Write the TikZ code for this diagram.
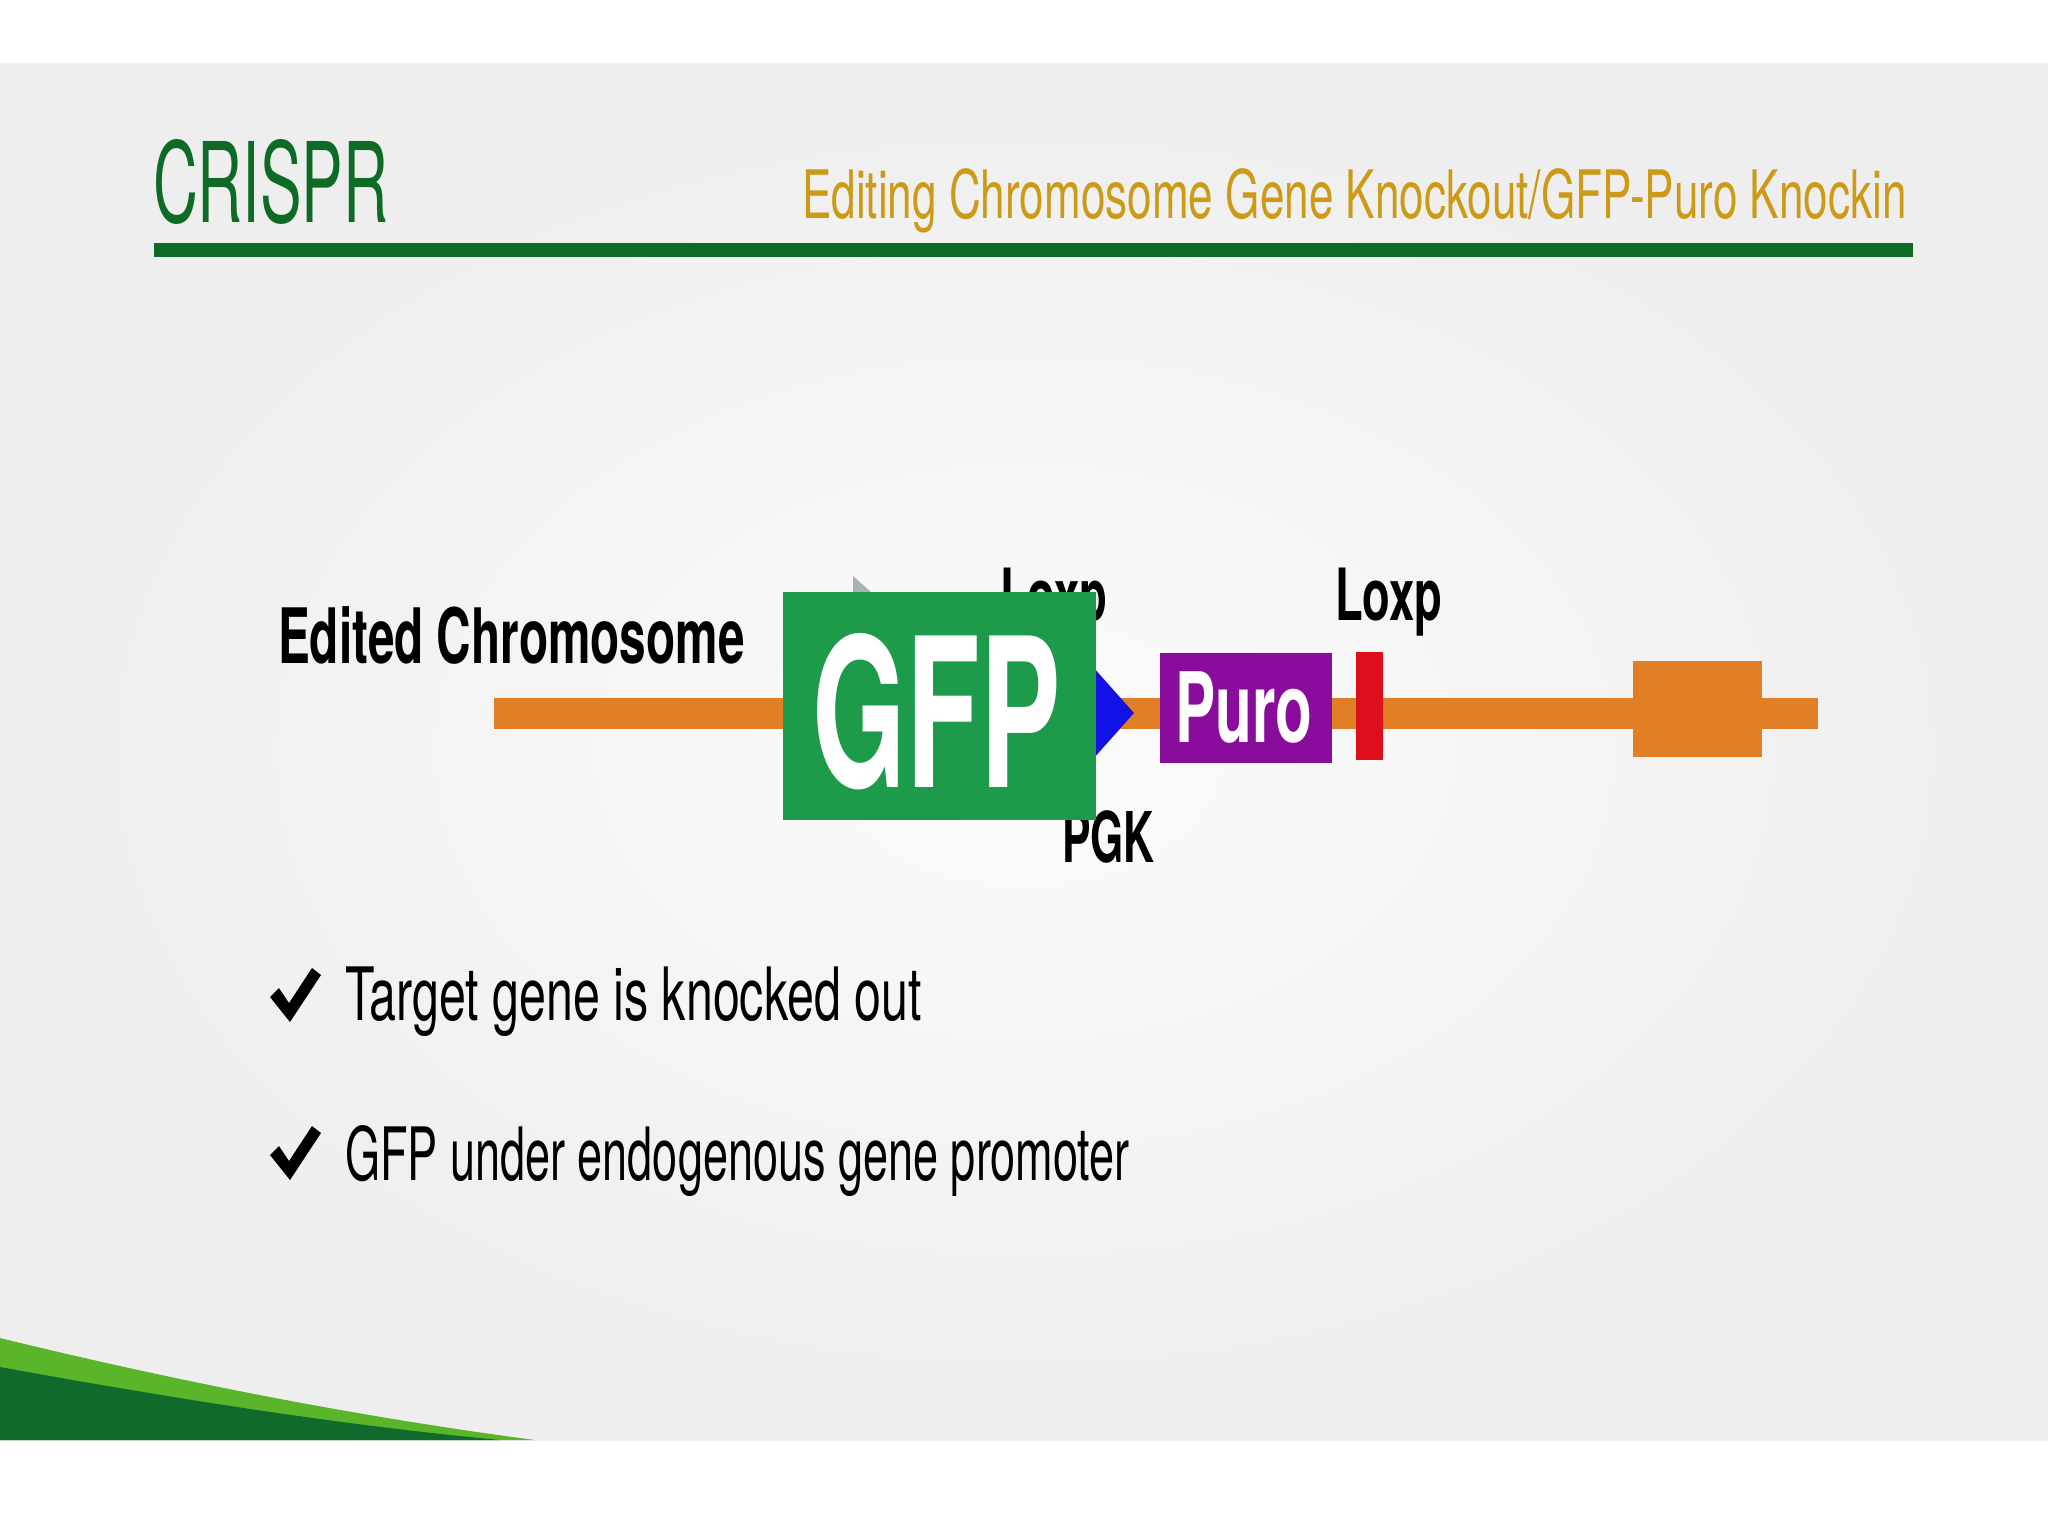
\documentclass[tikz,border=0pt]{standalone}
\usepackage{fontspec}
\setmainfont{TeX Gyre Heros}
\newfontfamily\fcrispr[FakeStretch=0.56]{TeX Gyre Heros}
\newfontfamily\fsub[FakeStretch=0.66]{TeX Gyre Heros}
\newfontfamily\fedit[FakeStretch=0.625]{TeX Gyre Heros}
\newfontfamily\flab[FakeStretch=0.63]{TeX Gyre Heros}
\newfontfamily\fpgk[FakeStretch=0.61]{TeX Gyre Heros}
\newfontfamily\fgfp[FakeStretch=0.58]{TeX Gyre Heros}
\newfontfamily\fpuro[FakeStretch=0.62]{TeX Gyre Heros}
\newfontfamily\fbulA[FakeStretch=0.657]{TeX Gyre Heros}
\newfontfamily\fbulB[FakeStretch=0.612]{TeX Gyre Heros}
\definecolor{hdgreen}{HTML}{0D6B26}
\definecolor{gold}{HTML}{CC9A16}
\definecolor{orng}{HTML}{E07F26}
\definecolor{gfpgreen}{HTML}{1D9A4A}
\definecolor{puro}{HTML}{8A0C9C}
\definecolor{loxred}{HTML}{DD0F1A}
\definecolor{pgkblue}{HTML}{1212E8}
\definecolor{lightgreen}{HTML}{5BB52B}
\definecolor{darkgreen}{HTML}{0F6A2C}
\definecolor{bgout}{HTML}{EEEEEE}
\definecolor{bgin}{HTML}{FBFBFB}
\definecolor{faint}{HTML}{A6B2B8}
\begin{document}
\begin{tikzpicture}[x=0.25pt,y=-0.25pt,
  txt/.style={inner sep=0pt,outer sep=0pt},
  boldlab/.style={txt,font=\flab\bfseries\fontsize{18}{20}\selectfont,text=black},
  bullet/.style={txt,anchor=base west,font=\fontsize{18.4}{20}\selectfont,text=black}]
\useasboundingbox (0,0) rectangle (2048,1536);
\fill[white] (0,0) rectangle (2048,1536);
\shade[inner color=bgin,outer color=bgout] (0,63) rectangle (2048,1440);
% header
\node[txt,anchor=base west,text=hdgreen,font=\fcrispr\fontsize{27.8}{30}\selectfont] (crispr) at (153,222) {CRISPR};
\node[txt,anchor=base east,text=gold,font=\fsub\fontsize{16.7}{18}\selectfont] (sub) at (1907,218) {Editing Chromosome Gene Knockout/GFP-Puro Knockin};
\fill[hdgreen] (154,243) rectangle (1913,257);
% chromosome
\node[txt,anchor=base west,text=black,font=\fedit\bfseries\fontsize{19.1}{21}\selectfont] (edited) at (278,663) {Edited Chromosome};
\fill[orng] (494,698) rectangle (1818,729);
\node[txt,fill=orng,minimum width=129*0.25pt,minimum height=96*0.25pt] (exon) at (1697.5,709) {};
\node[txt,fill=loxred,minimum width=27*0.25pt,minimum height=108*0.25pt] (loxpbar) at (1369.5,706) {};
\node[txt,fill=puro,minimum width=172*0.25pt,minimum height=110*0.25pt] (purobox) at (1246,708) {};
\node[txt,anchor=base,text=white,font=\fpuro\bfseries\fontsize{24.3}{26}\selectfont] (purotext) at (1244,742) {Puro};
\fill[pgkblue] (1060,630) -- (1134,713) -- (1060,796) -- cycle;
\fill[faint] (853,576) -- (871,592) -- (853,592) -- cycle;
\node[boldlab,anchor=base west] (loxp1) at (1000,620) {Loxp};
\node[boldlab,anchor=base west] (loxp2) at (1335,620) {Loxp};
\node[txt,anchor=base west,text=black,font=\fpgk\bfseries\fontsize{17.5}{19}\selectfont] (pgk) at (1062,862) {PGK};
\node[txt,fill=gfpgreen,minimum width=313*0.25pt,minimum height=228*0.25pt] (gfpbox) at (939.5,706) {};
\node[txt,anchor=base,text=white,font=\fgfp\bfseries\fontsize{52}{56}\selectfont] (gfptext) at (937,787) {GFP};
% bullets
\fill[black] (270,997) -- (279,988) -- (289,1003) -- (312,968) -- (321,975) -- (290,1022) -- cycle;
\node[bullet,font=\fbulA\fontsize{18.4}{20}\selectfont] (b1) at (345,1020) {Target gene is knocked out};
\fill[black] (270,1155) -- (279,1146) -- (289,1161) -- (312,1126) -- (321,1133) -- (290,1180) -- cycle;
\node[bullet,font=\fbulB\fontsize{18.4}{20}\selectfont] (b2) at (345,1180) {GFP under endogenous gene promoter};
% swoosh
\fill[lightgreen] (0,1338) .. controls (180,1382) and (360,1417) .. (535,1440) -- (0,1440) -- cycle;
\fill[darkgreen] (0,1367) .. controls (170,1398) and (340,1425) .. (500,1440) -- (0,1440) -- cycle;
\end{tikzpicture}
\end{document}
